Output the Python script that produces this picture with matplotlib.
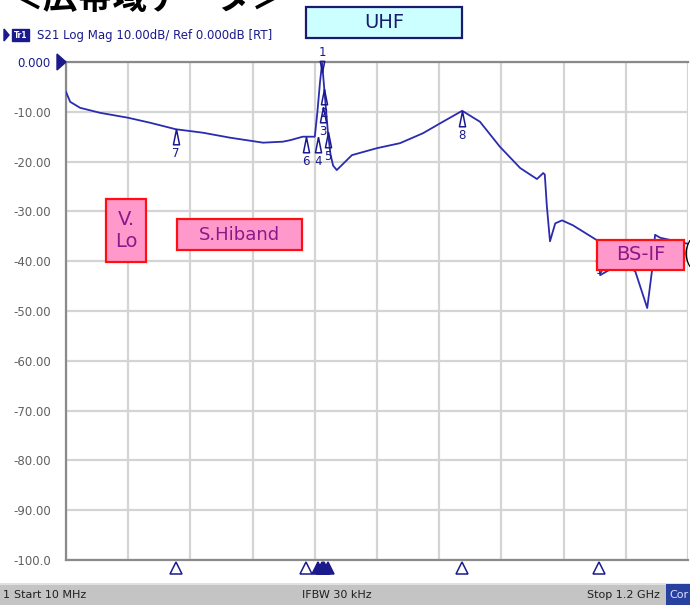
import numpy as np
import matplotlib.pyplot as plt
from matplotlib.path import Path
from matplotlib.patches import Rectangle

# trace S21 (MHz, dB)
freq = [10, 18, 37, 75, 129, 171, 220, 272, 324, 362, 387, 425, 439, 463, 486,
        491, 496, 500, 505, 511, 516, 521, 528, 557, 605, 649, 693, 726, 768,
        802, 840, 879, 911, 923, 926, 930, 936, 946, 959, 980, 1026, 1032,
        1070, 1099, 1122, 1131, 1137, 1147, 1200]
s21 = [-6.0, -8.0, -9.2, -10.2, -11.2, -12.2, -13.5, -14.2, -15.2, -15.8, -16.2,
       -16.0, -15.7, -15.0, -15.0, -10.0, -4.0, -0.2, -6.5, -14.0, -18.5, -20.8,
       -21.7, -18.7, -17.3, -16.3, -14.3, -12.3, -9.8, -12.0, -17.0, -21.3, -23.5,
       -22.3, -22.6, -29.0, -36.0, -32.4, -31.8, -32.8, -35.8, -42.8, -40.5,
       -42.0, -49.4, -42.0, -34.7, -35.3, -36.5]

# markers: name, freq MHz, dB
mk_name = ['1', '2', '3', '4', '5', '6', '7', '8', '9']
mk_freq = [500, 504, 502, 492, 511, 469, 220, 768, 1030]
mk_db = [-2.0, -5.5, -9.0, -15.0, -14.0, -15.0, -13.5, -9.8, -37.0]

yticks = [0, -10, -20, -30, -40, -50, -60, -70, -80, -90, -100]
ylabels = ['0.000', '-10.00', '-20.00', '-30.00', '-40.00', '-50.00',
           '-60.00', '-70.00', '-80.00', '-90.00', '-100.0']

navy = '#1a1a8c'
trace_c = '#2b2bb0'

fig = plt.figure(figsize=(6.9, 6.05), dpi=100)
ax = fig.add_axes([66/690, 1-560/605, 622/690, 498/605])
ax.set_xlim(10, 1200)
ax.set_ylim(-100, 0)
ax.set_xticks(np.linspace(10, 1200, 11))
ax.set_xticklabels([])
ax.set_yticks(yticks)
ax.set_yticklabels(ylabels, fontsize=8.5, family='DejaVu Sans')
for i, t in enumerate(ax.get_yticklabels()):
    t.set_color(navy if i == 0 else '#606060')
ax.tick_params(length=0, pad=11)
ax.grid(True, color='#d4d4d4', lw=1.6)
for s in ['left', 'bottom', 'top']:
    ax.spines[s].set_color('#8a8a8a')
    ax.spines[s].set_linewidth(1.6)
ax.spines['right'].set_visible(False)

ax.plot(freq, s21, color=trace_c, lw=1.3, zorder=3)

# marker triangles
up = Path([(0, 0), (-0.4, -2), (0.4, -2), (0, 0)])
down = Path([(0, 0), (-0.4, 2), (0.4, 2), (0, 0)])
for n, f, d in zip(mk_name, mk_freq, mk_db):
    if n == '1':
        ax.plot(f, d, marker=down, ms=16, mfc='none', mec=navy, mew=1.1,
                clip_on=False, zorder=4)
        ax.annotate(n, (f, d), xytext=(0, 9), textcoords='offset points',
                    ha='center', va='bottom', color=navy, fontsize=8.5,
                    annotation_clip=False)
    else:
        ax.plot(f, d, marker=up, ms=22, mfc='none', mec=navy, mew=1.1,
                zorder=4)
        ax.annotate(n, (f, d), xytext=(0, -13), textcoords='offset points',
                    ha='center', va='top', color=navy, fontsize=8.5)
    ax.plot(f, -101.6, marker='^', ms=9, mfc='white' if n in '6789' else navy,
            mec=navy, mew=1.1, clip_on=False, zorder=4)

# reference level arrow
fig.patches.append(plt.Polygon([(57/690, 1-54/605), (57/690, 1-70/605),
                                (66/690, 1-62/605)], closed=True,
                               color=navy, transform=fig.transFigure))

# label boxes
def box(x0, y0, x1, y1, fc, ec, txt, tc, fs=14):
    fig.patches.append(Rectangle((x0/690, 1-y1/605), (x1-x0)/690, (y1-y0)/605,
                                 fc=fc, ec=ec, lw=1.6, transform=fig.transFigure,
                                 zorder=5))
    fig.text((x0+x1)/2/690, 1-(y0+y1)/2/605, txt, ha='center', va='center',
             color=tc, fontsize=fs, family='DejaVu Sans', zorder=6,
             linespacing=1.2)

box(306, 7, 462, 38, '#ccffff', '#1a1a6e', 'UHF', '#1a1a6e')
box(106, 199, 146, 262, '#ff99cc', '#ff1010', 'V.\nLo', '#8a1a8a', 14)
box(177, 219, 302, 250, '#ff99cc', '#ff1010', 'S.Hiband', '#8a1a8a', 13)
box(597, 240, 684, 270, '#ff99cc', '#ff1010', 'BS-IF', '#8a1a8a', 14)
fig.text(682/690, 1-255/605, '(', ha='left', va='center', fontsize=22,
         color='black', zorder=7, family='DejaVu Sans', fontweight='light')

# header
fig.patches.append(plt.Polygon([(4/690, 1-29/605), (4/690, 1-41/605),
                                (9/690, 1-35/605)], closed=True,
                               color=navy, transform=fig.transFigure))
fig.text(14/690, 1-35/605, 'Tr1', fontsize=5.5, color='white', va='center',
         fontweight='bold',
         bbox=dict(boxstyle='square,pad=0.2', fc=navy, ec=navy))
fig.text(37/690, 1-35/605, 'S21 Log Mag 10.00dB/ Ref 0.000dB [RT]',
         fontsize=8.5, color=navy, va='center', family='DejaVu Sans')
fig.text(8/690, 1-9/605, '\uff1c広帯域データ\uff1e', fontsize=25,
         fontweight='bold', family=['Noto Sans CJK JP', 'DejaVu Sans'],
         va='baseline', color='black')

# status bar
fig.patches.append(Rectangle((0, 0), 1, 22/605, fc='#c4c4c4', ec='none',
                             transform=fig.transFigure))
fig.patches.append(Rectangle((0, 20/605), 1, 2/605, fc='#e0e0e0', ec='none',
                             transform=fig.transFigure))
fig.text(3/690, 10/605, '1', fontsize=8, va='center', color='#202020')
fig.text(14/690, 10/605, 'Start 10 MHz', fontsize=8, va='center',
         color='#202020')
fig.text(337/690, 10/605, 'IFBW 30 kHz', fontsize=8, va='center',
         ha='center', color='#202020')
fig.text(660/690, 10/605, 'Stop 1.2 GHz', fontsize=8, va='center',
         ha='right', color='#202020')
fig.patches.append(Rectangle((666/690, 0), 24/690, 21/605, fc='#2840a0',
                             ec='none', transform=fig.transFigure))
fig.text(669/690, 10/605, 'Cor', fontsize=8, va='center', color='#e0e0ff')

fig.savefig('out.png', dpi=100)
